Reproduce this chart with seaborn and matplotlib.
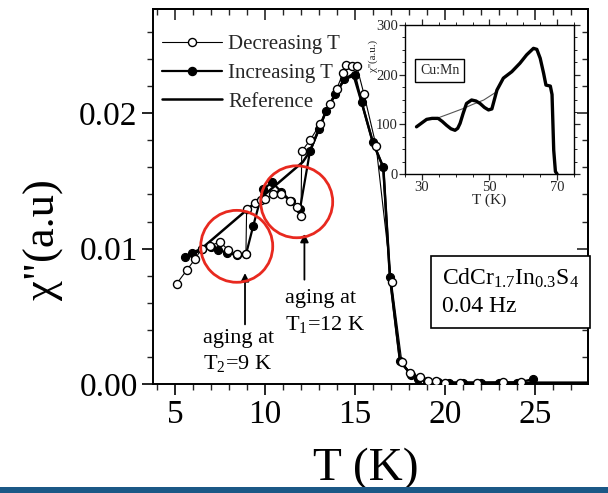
import numpy as np
import pandas as pd
import matplotlib
matplotlib.use("Agg")
import matplotlib.pyplot as plt
import seaborn as sns
from matplotlib.patches import Ellipse, Rectangle
from matplotlib.lines import Line2D
from matplotlib.ticker import MultipleLocator

# ---------------- data ----------------
# Decreasing T (open circles), listed low-T -> high-T with aging jumps
dec_T = [5.09, 5.65, 6.10, 6.48, 6.94, 7.50, 7.96, 8.43, 8.94, 8.98, 9.44, 9.80, 10.0, 10.46,
         10.9, 11.4, 11.76, 12.0, 12.04, 12.5, 13.06, 13.6, 13.98, 14.35, 14.5, 14.82, 15.09,
         15.5, 16.17, 17.03, 17.6, 18.06, 18.6, 19.07, 19.5, 20.0, 20.83, 21.76, 23.24, 24.2]
dec_chi = [0.0074, 0.0084, 0.0092, 0.0100, 0.0102, 0.0105, 0.0099, 0.0096, 0.0096, 0.0129,
           0.0134, 0.0136, 0.0137, 0.0140, 0.0140, 0.0135, 0.0131, 0.0124, 0.0172, 0.0180,
           0.0192, 0.0207, 0.0218, 0.0230, 0.0236, 0.0235, 0.0235, 0.0214, 0.0176, 0.0075,
           0.00165, 0.0008, 0.00054, 0.00024, 0.0002, 0.0001, 0.0001, 0.0001, 0.00015, 0.00015]

# Increasing T (filled circles)
inc_T = [5.56, 5.93, 6.5, 7.0, 7.41, 7.9, 8.45, 8.95, 9.35, 9.9, 10.4, 10.9, 11.45, 11.94,
         12.5, 13.0, 13.4, 13.9, 14.4, 15.0, 15.37, 15.98, 16.57, 16.94, 17.5, 18.1, 18.5,
         19.0, 19.6, 20.2, 21.0, 22.0, 23.0, 24.0, 24.87]
inc_chi = [0.0094, 0.0097, 0.0100, 0.0101, 0.0099, 0.0097, 0.0095, 0.0096, 0.0117, 0.0144,
           0.0149, 0.0142, 0.0135, 0.0129, 0.0172, 0.0188, 0.0202, 0.0214, 0.0225, 0.0228,
           0.0208, 0.0179, 0.0160, 0.0079, 0.0017, 0.0007, 0.0004, 0.0002, 0.00015, 0.0001,
           0.0001, 0.0001, 0.0001, 0.0001, 0.00035]

# Reference curve (no aging)
ref_T = [5.5, 6.3, 12.1, 12.5, 13.4, 14.4, 14.9, 15.37, 15.98, 16.57, 16.94, 17.5, 18.1,
         19.0, 20.0, 22.0, 25.0, 27.9]
ref_chi = [0.0093, 0.0098, 0.0164, 0.0172, 0.0202, 0.0225, 0.0229, 0.0208, 0.0179, 0.0160,
           0.0079, 0.0017, 0.0007, 0.0002, 0.0001, 0.0001, 0.0001, 0.0001]

# Inset: Cu:Mn
cu_T = [28.4, 30.0, 31.4, 33.0, 34.8, 36.0, 37.3, 38.6, 39.8, 40.6, 41.3, 42.2, 43.2, 44.7,
        46.0, 47.2, 48.5, 49.7, 50.7, 52.2, 54.1, 56.6, 59.0, 61.0, 63.0, 64.0, 65.0, 66.0,
        66.7, 67.4, 68.0, 68.5, 69.0, 69.5, 70.0]
cu_chi = [95, 103, 110, 112, 112, 106, 98, 91, 88, 92, 102, 122, 142, 149, 147, 142, 134,
          129, 131, 169, 193, 206, 223, 240, 253, 251, 233, 203, 179, 178, 177, 160, 48, 5, 0]
cu_ref_T = [34.8, 38.0, 42.3, 45.0, 48.3, 52.2]
cu_ref_chi = [113, 121, 132, 140, 149, 166]

x_major = [5, 10, 15, 20, 25]
y_major = [0.00, 0.01, 0.02]
y_major_labels = ["0.00", "0.01", "0.02"]
legend_labels = ["Decreasing T", "Increasing T", "Reference"]

# ---------------- style ----------------
sns.set_theme(style="ticks")
plt.rcParams["font.family"] = ["Liberation Serif", "DejaVu Serif"]
plt.rcParams["mathtext.fontset"] = "custom"
plt.rcParams["mathtext.rm"] = "Liberation Serif"
plt.rcParams["mathtext.it"] = "Liberation Serif:italic"
plt.rcParams["axes.linewidth"] = 1.4

W, H = 608, 493
fig = plt.figure(figsize=(W / 100, H / 100), dpi=100)
fig.patch.set_facecolor("white")

ax = fig.add_axes([153 / W, 1 - 384 / H, (588 - 153) / W, (384 - 9) / H])
ax.set_facecolor("white")

ref_df = pd.DataFrame({"T": ref_T, "chi": ref_chi})
inc_df = pd.DataFrame({"T": inc_T, "chi": inc_chi})
dec_df = pd.DataFrame({"T": dec_T, "chi": dec_chi})

sns.lineplot(data=ref_df, x="T", y="chi", sort=False, estimator=None, ax=ax,
             color="black", lw=1.8, zorder=2)
sns.lineplot(data=inc_df, x="T", y="chi", sort=False, estimator=None, ax=ax,
             color="black", lw=1.6, marker="o", markersize=5.8, markerfacecolor="black",
             markeredgecolor="black", markeredgewidth=0.8, zorder=3)
sns.lineplot(data=dec_df, x="T", y="chi", sort=False, estimator=None, ax=ax,
             color="black", lw=0.8, marker="o", markersize=5.8, markerfacecolor="white",
             markeredgecolor="black", markeredgewidth=1.0, zorder=4)

ax.set_xlim(3.78, 27.94)
ax.set_ylim(0, 0.0277)
ax.set_xticks(x_major)
ax.set_xticklabels([str(v) for v in x_major])
ax.set_yticks(y_major)
ax.set_yticklabels(y_major_labels)
ax.xaxis.set_minor_locator(MultipleLocator(1))
ax.yaxis.set_minor_locator(MultipleLocator(0.002))
ax.tick_params(which="major", direction="out", length=8, width=1.2, labelsize=24, pad=3,
               colors="black")
ax.tick_params(which="minor", direction="out", length=4, width=1.0)
for s in ax.spines.values():
    s.set_visible(True)
    s.set_linewidth(1.4)
    s.set_color("black")

secx = ax.secondary_xaxis("top")
secx.set_xticks(x_major)
secx.xaxis.set_minor_locator(MultipleLocator(1))
secx.tick_params(which="major", direction="in", length=8, width=1.2, labeltop=False)
secx.tick_params(which="minor", direction="in", length=4, width=1.0)
secy = ax.secondary_yaxis("right")
secy.set_yticks(y_major)
secy.yaxis.set_minor_locator(MultipleLocator(0.002))
secy.tick_params(which="major", direction="in", length=8, width=1.2, labelright=False)
secy.tick_params(which="minor", direction="in", length=4, width=1.0)

ax.set_xlabel("T (K)", fontsize=34, color="black")
ax.set_ylabel('χ"(a.u)', fontsize=32, color="black")
ax.xaxis.set_label_coords(0.49, -0.17)
ax.yaxis.set_label_coords(-0.205, 0.384)

handles = [
    Line2D([], [], color="black", lw=0.8, marker="o", ms=5.8, mfc="white", mec="black"),
    Line2D([], [], color="black", lw=1.6, marker="o", ms=5.8, mfc="black", mec="black"),
    Line2D([], [], color="black", lw=1.8),
]
ax.legend(handles, legend_labels, loc="upper left", bbox_to_anchor=(0.02, 0.931),
          frameon=False, fontsize=15, handlelength=2.9, handletextpad=0.3,
          labelspacing=0.43, borderpad=0, borderaxespad=0)

# aging annotations
ax.text(6.56, 0.0024, "aging at\nT$_2$=9 K", fontsize=16, ha="left", va="center",
        linespacing=1.35, color="black")
ax.text(11.11, 0.0053, "aging at\nT$_1$=12 K", fontsize=16, ha="left", va="center",
        linespacing=1.35, color="black")
ax.annotate("", xy=(8.89, 0.0084), xytext=(8.89, 0.0042),
            arrowprops=dict(arrowstyle="-|>", color="black", lw=1.3, mutation_scale=12))
ax.annotate("", xy=(12.19, 0.0113), xytext=(12.19, 0.0075),
            arrowprops=dict(arrowstyle="-|>", color="black", lw=1.3, mutation_scale=12))

red = "#e8291f"
ax.add_patch(Ellipse((8.43, 0.01017), 72 / 18, 72 / 13550, fill=False, ec=red, lw=2.0,
                     zorder=6))
ax.add_patch(Ellipse((11.76, 0.01346), 72 / 18, 72 / 13550, fill=False, ec=red, lw=2.0,
                     zorder=6))

ax.text(19.83, 0.0068, "CdCr$_{1.7}$In$_{0.3}$S$_4$\n0.04 Hz", fontsize=17, ha="left",
        va="center", linespacing=1.35, color="black",
        bbox=dict(boxstyle="square,pad=0.45", fc="white", ec="black", lw=1.2))

# ---------------- inset ----------------
ins = fig.add_axes([405 / W, 1 - 174 / H, 169 / W, 149 / H])
ins.set_facecolor("white")
cu_ref_df = pd.DataFrame({"T": cu_ref_T, "chi": cu_ref_chi})
cu_df = pd.DataFrame({"T": cu_T, "chi": cu_chi})
sns.lineplot(data=cu_ref_df, x="T", y="chi", sort=False, estimator=None, ax=ins,
             color="#555555", lw=0.8)
sns.lineplot(data=cu_df, x="T", y="chi", sort=False, estimator=None, ax=ins,
             color="black", lw=2.4)
ins.set_xlim(25, 75)
ins.set_ylim(0, 300)
ins.set_xticks([30, 50, 70])
ins.set_yticks([0, 100, 200, 300])
ins.xaxis.set_minor_locator(MultipleLocator(5))
ins.yaxis.set_minor_locator(MultipleLocator(25))
ins.tick_params(which="major", direction="out", length=4, width=0.9, labelsize=10.5, pad=1)
ins.tick_params(which="minor", direction="out", length=2.5, width=0.7)
ins.tick_params(top=True, right=True, which="both")
for s in ins.spines.values():
    s.set_visible(True)
    s.set_linewidth(1.0)
    s.set_color("black")
ins.set_xlabel("T (K)", fontsize=11, labelpad=0)
ins.set_ylabel("χ''(a.u.)", fontsize=8)
ins.yaxis.set_label_coords(-0.16, 0.79)
ins.text(29.5, 208, "Cu:Mn", fontsize=10, ha="left", va="center",
         bbox=dict(boxstyle="square,pad=0.35", fc="white", ec="black", lw=1.0))

# bottom band
fig.patches.append(Rectangle((0, 0), 1, 6 / H, transform=fig.transFigure,
                             facecolor="#1b5886", edgecolor="none", zorder=10))

fig.savefig("out.png", dpi=100, facecolor="white")
